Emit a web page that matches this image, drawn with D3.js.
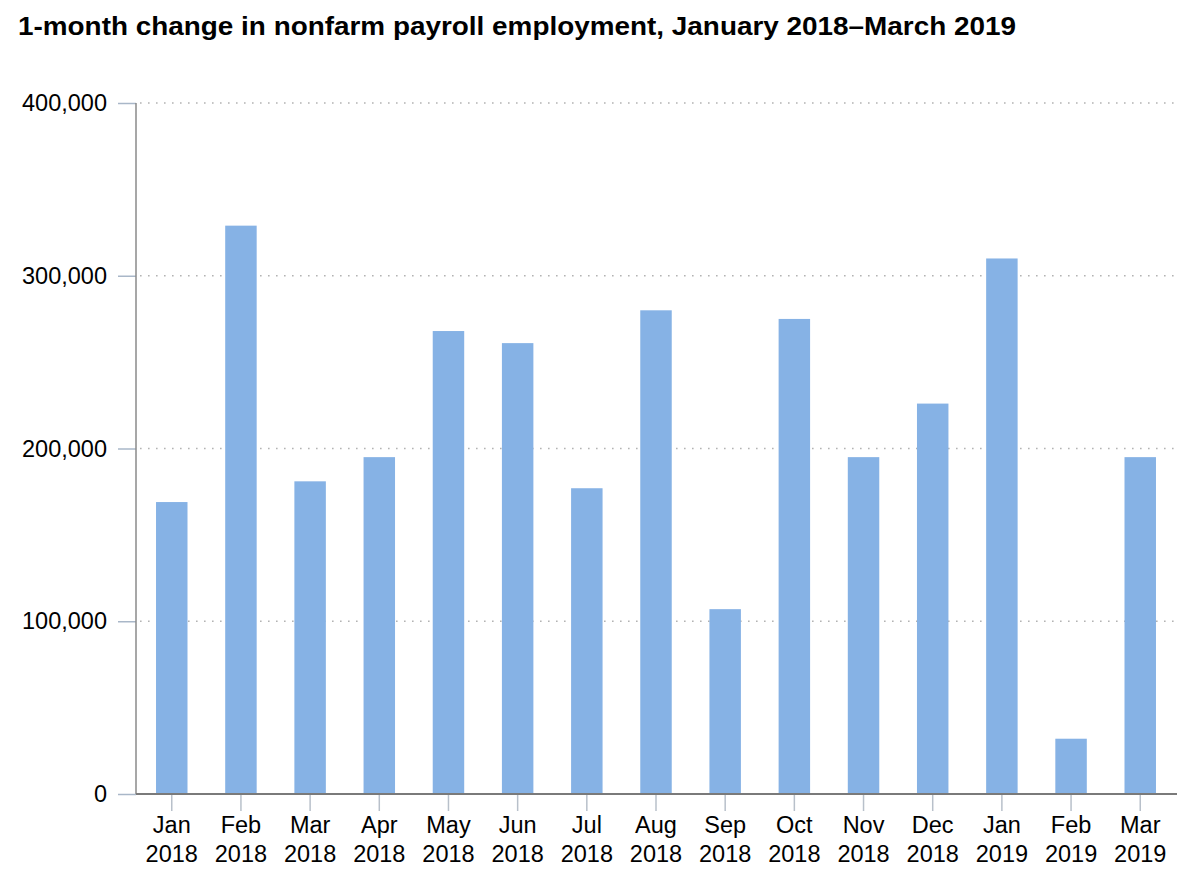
<!DOCTYPE html>
<html>
<head>
<meta charset="utf-8">
<script src="https://cdn.jsdelivr.net/npm/d3@7"></script>
<style>
  html, body { margin: 0; padding: 0; background: #fff; }
  svg { display: block; font-family: "Liberation Sans", Arial, sans-serif; }
</style>
</head>
<body>
<svg id="chart" width="1200" height="883"></svg>
<script>
const titleText = "1-month change in nonfarm payroll employment, January 2018–March 2019";
const months = ["Jan","Feb","Mar","Apr","May","Jun","Jul","Aug","Sep","Oct","Nov","Dec","Jan","Feb","Mar"];
const years = ["2018","2018","2018","2018","2018","2018","2018","2018","2018","2018","2018","2018","2019","2019","2019"];
const values = [169000, 329000, 181000, 195000, 268000, 261000, 177000, 280000, 107000, 275000, 195000, 226000, 310000, 32000, 195000];
const yTicks = [0, 100000, 200000, 300000, 400000];

const svg = d3.select("#chart");
const keys = months.map((m, i) => m + " " + years[i]);

const x = d3.scaleBand().domain(keys).range([137, 1175]).paddingInner(0.545).paddingOuter(0.275);
const y = d3.scaleLinear().domain([0, 400000]).range([794, 103]);

// title
svg.append("text")
  .attr("x", 18).attr("y", 35)
  .attr("font-size", 26).attr("font-weight", "bold").attr("fill", "#000")
  .attr("textLength", 998).attr("lengthAdjust", "spacingAndGlyphs")
  .text(titleText);

// gridlines
svg.append("g").selectAll("line")
  .data(yTicks.filter(d => d > 0))
  .join("line")
  .attr("x1", 140).attr("x2", 1174)
  .attr("y1", d => y(d)).attr("y2", d => y(d))
  .attr("stroke", "#b3b3b3").attr("stroke-width", 1.6)
  .attr("stroke-dasharray", "1.6,6.4");

// bars
svg.append("g").selectAll("rect")
  .data(values)
  .join("rect")
  .attr("x", (d, i) => x(keys[i]))
  .attr("width", x.bandwidth())
  .attr("y", d => y(d))
  .attr("height", d => y(0) - y(d))
  .attr("fill", "#86b2e5");

// y axis
const yAxis = svg.append("g")
  .attr("transform", "translate(136,0)")
  .call(d3.axisLeft(y).tickValues(yTicks).tickSize(18).tickPadding(11).tickFormat(d3.format(",")));
yAxis.select(".domain").remove();
yAxis.selectAll(".tick line").attr("stroke", "#a9b7c8").attr("stroke-width", 1.5);
yAxis.selectAll(".tick text").attr("font-size", 23.5).attr("fill", "#000")
  .attr("font-family", "'Liberation Sans', Arial, sans-serif");
svg.append("line")
  .attr("x1", 136).attr("x2", 136).attr("y1", y(400000)).attr("y2", y(0))
  .attr("stroke", "#8a8a8a").attr("stroke-width", 1.5);

// x axis
const xAxis = svg.append("g")
  .attr("transform", "translate(0,794)")
  .call(d3.axisBottom(x).tickSize(17).tickSizeOuter(0).tickFormat(""));
xAxis.select(".domain").remove();
xAxis.selectAll(".tick line").attr("stroke", "#b8c0ca").attr("stroke-width", 1.5);
xAxis.selectAll(".tick").each(function(d, i) {
  const t = d3.select(this).append("text")
    .attr("text-anchor", "middle").attr("font-size", 23.5).attr("fill", "#000")
    .attr("font-family", "'Liberation Sans', Arial, sans-serif");
  t.append("tspan").attr("x", 0).attr("y", 39).text(months[i]);
  t.append("tspan").attr("x", 0).attr("y", 68).text(years[i]);
});
svg.append("line")
  .attr("x1", 136).attr("x2", 1177).attr("y1", y(0)).attr("y2", y(0))
  .attr("stroke", "#7a7a7a").attr("stroke-width", 2);
</script>
</body>
</html>
